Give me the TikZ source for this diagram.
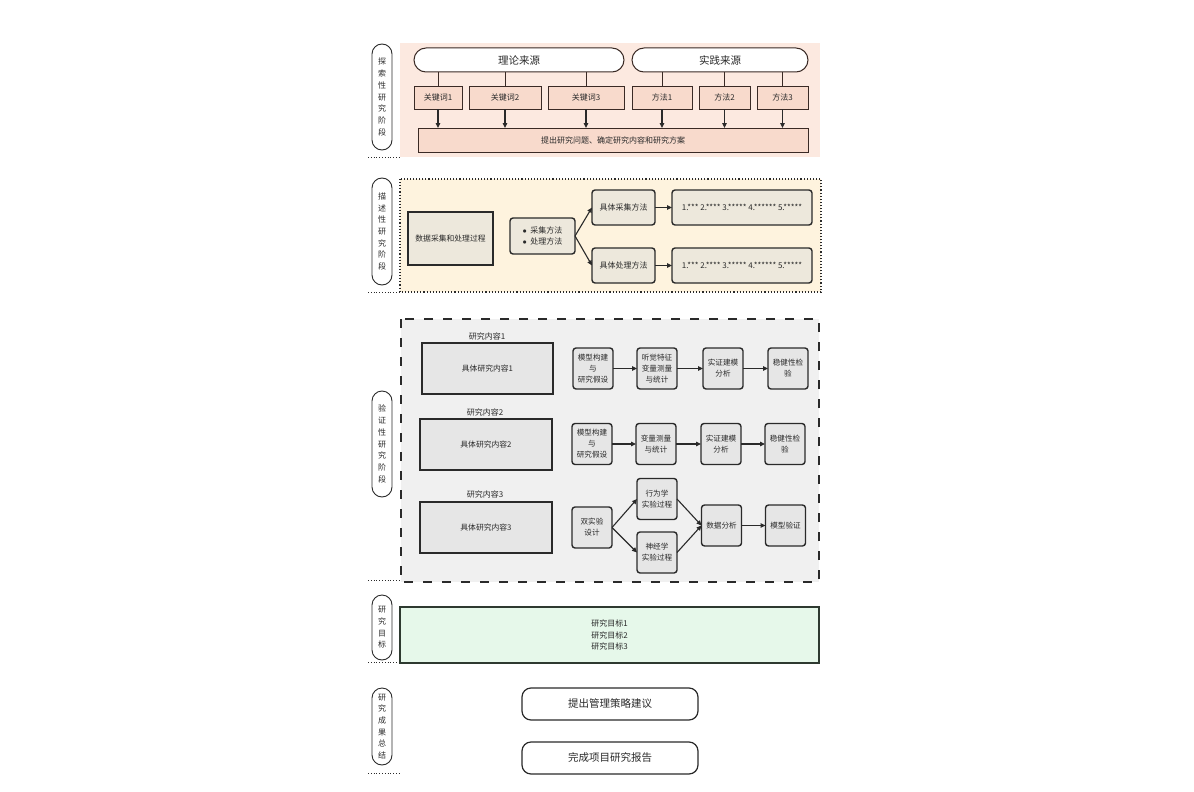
\documentclass[tikz,border=0pt]{standalone}
\usepackage{fontspec}
\setmainfont{Noto Sans CJK SC}
\usetikzlibrary{arrows.meta,positioning}
\definecolor{peach}{HTML}{FCE9E0}
\definecolor{salmon}{HTML}{F8DACC}
\definecolor{brownline}{HTML}{3A2A25}
\definecolor{cream}{HTML}{FEF3DE}
\definecolor{sand}{HTML}{EDE8DC}
\definecolor{fog}{HTML}{F0F0F0}
\definecolor{ash}{HTML}{E6E6E6}
\definecolor{mint}{HTML}{E6F8EA}
\definecolor{pine}{HTML}{2E3A30}
\definecolor{ink}{HTML}{2A2A2A}

\begin{document}
\begin{tikzpicture}[
  x=1pt, y=-1pt,
  node distance=7pt and 7pt,
  side/.style={draw=ink,line width=0.9pt,rounded corners=10pt,minimum width=20pt,inner sep=0pt,align=center,text=ink,font=\fontsize{8}{11.7}\selectfont},
  src/.style={draw=brownline,line width=1pt,fill=white,rounded corners=12pt,minimum height=24pt,inner sep=0pt,text=ink,font=\fontsize{10.5}{12}\selectfont},
  kw/.style={draw=brownline,line width=1pt,fill=salmon,minimum height=23pt,inner sep=0pt,outer sep=0pt,text=ink,font=\fontsize{8}{10}\selectfont},
  plain/.style={draw=ink,line width=1.4pt,inner sep=1pt,align=center,text=ink,font=\fontsize{7.8}{10}\selectfont},
  card/.style={draw=ink,line width=1.4pt,rounded corners=3pt,fill=sand,minimum height=35pt,inner sep=1pt,outer sep=0pt,text=ink,font=\fontsize{8}{11}\selectfont},
  tile/.style={draw=ink,line width=1.4pt,rounded corners=3pt,fill=ash,minimum width=40pt,minimum height=41pt,inner sep=1pt,outer sep=0pt,align=center,text=ink,font=\fontsize{7.6}{11}\selectfont},
  tag/.style={inner sep=0pt,text=ink,font=\fontsize{8}{10}\selectfont},
  pill/.style={draw=ink,line width=1.2pt,fill=white,rounded corners=9pt,minimum width=176pt,minimum height=32pt,text=ink,font=\fontsize{10.5}{12}\selectfont},
  flow/.style={-{Triangle[length=5pt,width=4.5pt]},line width=1.1pt,draw=ink},
  rule/.style={dotted,line width=0.8pt,draw=ink}
]
\useasboundingbox (0,0) rectangle (1194,792);

\fill[peach] (400,43) rectangle (820,157);
\node[side,minimum height=106pt] (s1) at (382,97) {探\\索\\性\\研\\究\\阶\\段};
\draw[rule] (368,157) -- (399,157);
\node[src,minimum width=210pt] (th) at (519,60) {理论来源};
\node[src,minimum width=176pt] (pr) at (720,60) {实践来源};
\node[kw,minimum width=48pt] (k1) at (438,97.5) {关键词1};
\node[kw,minimum width=72pt,right=of k1] (k2) {关键词2};
\node[kw,minimum width=76pt,right=of k2] (k3) {关键词3};
\node[kw,minimum width=60pt,right=8pt of k3] (f1) {方法1};
\node[kw,minimum width=51pt,right=of f1] (f2) {方法2};
\node[kw,minimum width=51pt,right=of f2] (f3) {方法3};
\node[kw,minimum width=390pt,minimum height=24pt] (qs) at (613,140) {提出研究问题、确定研究内容和研究方案};
\foreach \k in {k1,k2,k3} {
  \draw[line width=1pt,brownline] (th.south -| \k) -- (\k);
  \draw[flow] (\k) -- (\k |- qs.north);
}
\foreach \k in {f1,f2,f3} {
  \draw[line width=1pt,brownline] (pr.south -| \k) -- (\k);
  \draw[flow] (\k) -- (\k |- qs.north);
}

\filldraw[fill=cream,draw=ink,dotted,line width=1.1pt] (400,179) rectangle (821,292);
\node[side,minimum height=107pt] (s2) at (382,231.5) {描\\述\\性\\研\\究\\阶\\段};
\draw[rule] (368,292) -- (399,292);
\node[plain,fill=sand,minimum width=85pt,minimum height=53pt] (dp) at (450.5,238.5) {数据采集和处理过程};
\node[card,minimum width=65pt,minimum height=36pt,align=left] (bl) at (542.5,236) {$\bullet$\ \ 采集方法\\$\bullet$\ \ 处理方法};
\node[card,minimum width=63pt] (ca) at (623.5,207.5) {具体采集方法};
\node[card,minimum width=63pt] (cp) at (623.5,265.5) {具体处理方法};
\draw[flow] (bl.east) -- (ca.west);
\draw[flow] (bl.east) -- (cp.west);
\node[card,minimum width=140pt,right=17pt of ca] (la) {1.*** 2.**** 3.***** 4.****** 5.*****};
\draw[flow] (ca) -- (la);
\node[card,minimum width=140pt,right=17pt of cp] (lp) {1.*** 2.**** 3.***** 4.****** 5.*****};
\draw[flow] (cp) -- (lp);

\filldraw[fill=fog,draw=ink,line width=1.5pt,dash pattern=on 9pt off 10pt] (401,319) rectangle (819,582);
\node[side,minimum height=106pt] (s3) at (382,444) {验\\证\\性\\研\\究\\阶\\段};
\draw[rule] (368,580) -- (400,580);
\node[tag] (h1) at (487,336) {研究内容1};
\node[plain,fill=ash,minimum width=131pt,minimum height=51pt] (r1) at (487.5,368.5) {具体研究内容1};
\node[tag] (h2) at (485,412) {研究内容2};
\node[plain,fill=ash,minimum width=132pt,minimum height=51pt] (r2) at (486,444.5) {具体研究内容2};
\node[tag] (h3) at (485,494) {研究内容3};
\node[plain,fill=ash,minimum width=132pt,minimum height=51pt] (r3) at (486,527.5) {具体研究内容3};

\node[tile] (a1) at (593,368.5) {模型构建\\与\\研究假设};
\node[tile,right=24pt of a1] (a2) {听觉特征\\变量测量\\与统计};
\draw[flow] (a1) -- (a2);
\node[tile,right=26pt of a2] (a3) {实证建模\\分析};
\draw[flow] (a2) -- (a3);
\node[tile,right=25pt of a3] (a4) {稳健性检\\验};
\draw[flow] (a3) -- (a4);

\node[tile] (b1) at (592,444) {模型构建\\与\\研究假设};
\node[tile,right=24pt of b1] (b2) {变量测量\\与统计};
\draw[flow] (b1) -- (b2);
\node[tile,right=25pt of b2] (b3) {实证建模\\分析};
\draw[flow] (b2) -- (b3);
\node[tile,right=24pt of b3] (b4) {稳健性检\\验};
\draw[flow] (b3) -- (b4);

\node[tile] (c1) at (592,527.5) {双实验\\设计};
\node[tile] (c2) at (657,499) {行为学\\实验过程};
\node[tile] (c3) at (657,552.5) {神经学\\实验过程};
\node[tile] (c4) at (721.5,525.5) {数据分析};
\node[tile,right=24pt of c4] (c5) {模型验证};
\draw[flow] (c1.east) -- (c2.west);
\draw[flow] (c1.east) -- (c3.west);
\draw[flow] (c2.east) -- (c4.west);
\draw[flow] (c3.east) -- (c4.west);
\draw[flow] (c4) -- (c5);

\node[side,minimum height=65pt] (s4) at (382,627.5) {研\\究\\目\\标};
\draw[rule] (368,662) -- (400,662);
\node[draw=pine,line width=1.5pt,fill=mint,minimum width=419pt,minimum height=56pt,align=center,text=ink,font=\fontsize{8}{11.5}\selectfont] (gl) at (609.5,635) {研究目标1\\研究目标2\\研究目标3};

\node[side,minimum height=77pt] (s5) at (382,726.5) {研\\究\\成\\果\\总\\结};
\draw[rule] (368,773) -- (400,773);
\node[pill] (o1) at (610,704) {提出管理策略建议};
\node[pill] (o2) at (610,758) {完成项目研究报告};
\end{tikzpicture}
\end{document}
